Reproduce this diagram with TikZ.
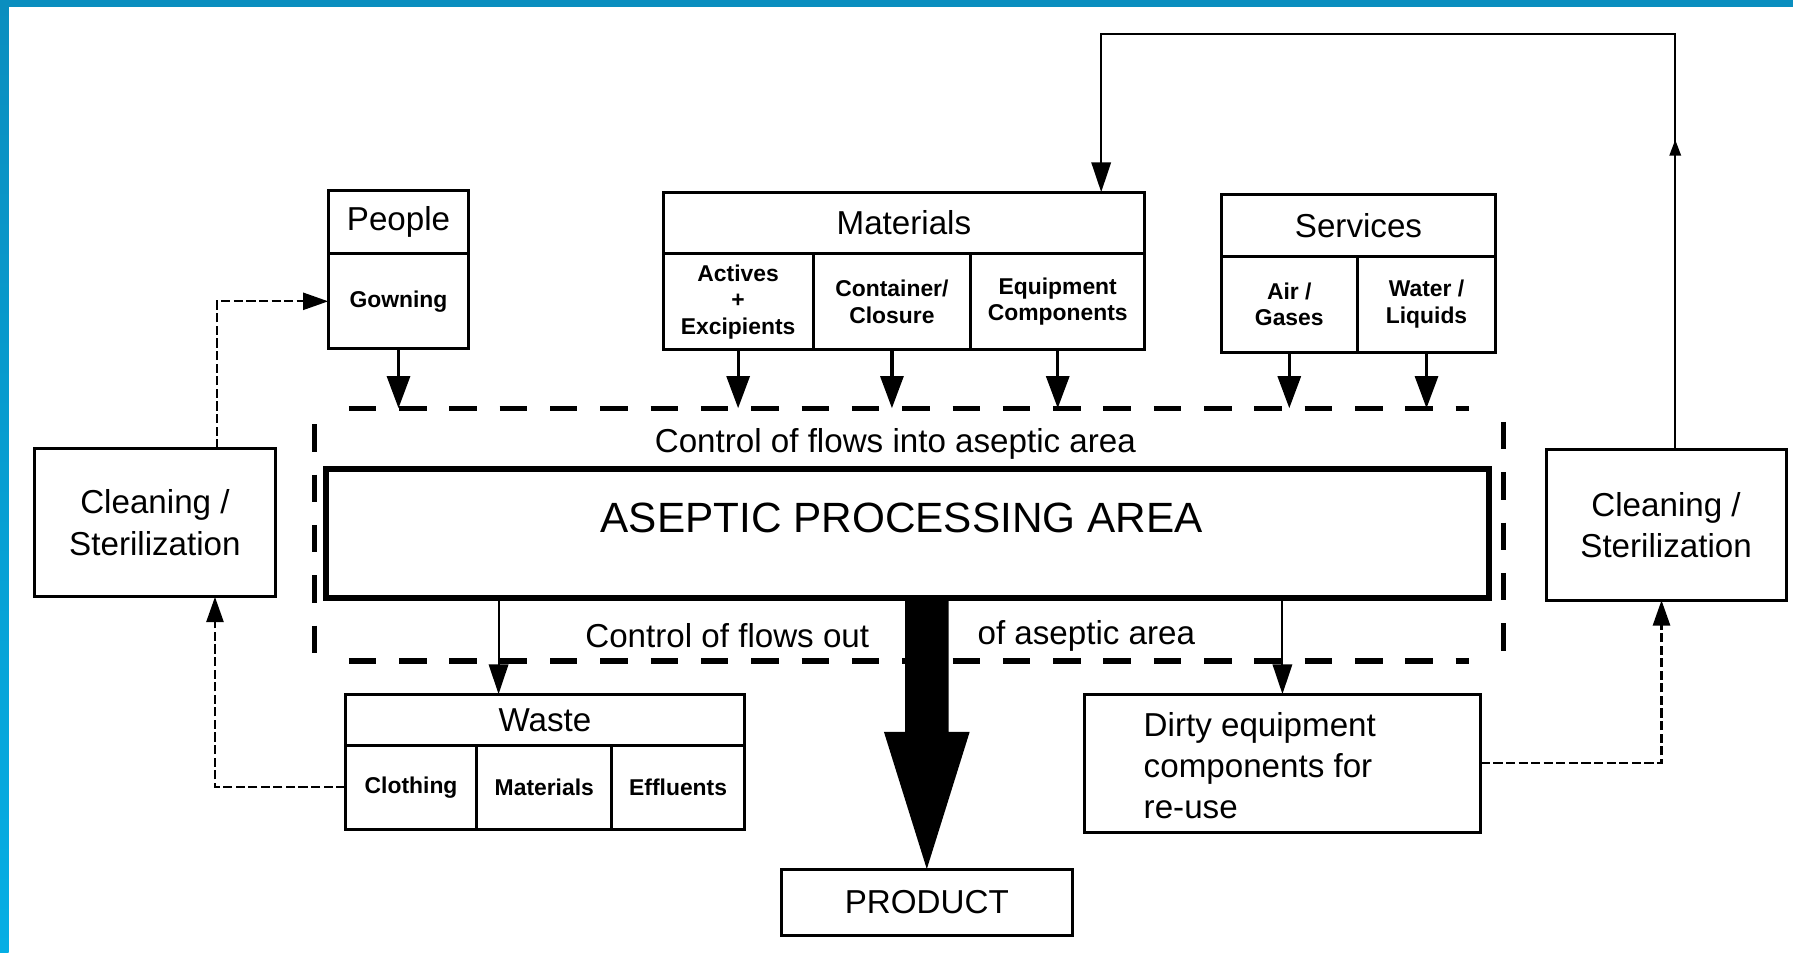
\documentclass[tikz,border=0pt]{standalone}
\usepackage{fontspec}
\setmainfont{Liberation Sans}
\usetikzlibrary{arrows.meta,calc,decorations.markings}
\definecolor{bluebar}{HTML}{0A8EBF}
\definecolor{bluebarb}{HTML}{05AEE4}
\tikzset{
 box/.style={draw, line width=2.6pt, inner sep=0pt, outer sep=0pt, align=center, font=\fontsize{29}{36}\selectfont},
 subbox/.style={box, font=\bfseries\fontsize{20}{23}\selectfont},
 arr/.style={line width=2.8pt, -{Triangle[width=20pt,length=28pt]}},
 thinarr/.style={line width=1.8pt, -{Triangle[width=17pt,length=26pt]}},
 dasharr/.style={line width=1.8pt, dash pattern=on 8pt off 3pt, -{Triangle[width=15pt,length=22pt]}},
 zoneline/.style={line width=4.5pt, dash pattern=on 24pt off 20pt},
 lbl/.style={font=\fontsize{29}{36}\selectfont, inner sep=0pt},
}
\begin{document}
\begin{tikzpicture}[x=1pt,y=-1pt]
\useasboundingbox (0,0) rectangle (1568,833);
\fill[white] (0,0) rectangle (1568,833);
\fill[bluebar] (0,0) rectangle (1568,6);
\shade[top color=bluebar, bottom color=bluebarb] (0,0) rectangle (7.5,833);

% People
\node[box, minimum width=123pt, minimum height=55pt] (pplT) at (348.5,194.5) {People};
\node[subbox, minimum width=123pt, minimum height=83pt] (pplB) at (348.5,263.5) {Gowning};

% Materials
\node[box, minimum width=421pt, minimum height=54pt] (matT) at (790.5,195) {Materials};
\node[subbox, minimum width=131pt, minimum height=84pt] (act) at (645.5,264) {Actives\\+\\Excipients};
\node[subbox, minimum width=138pt, minimum height=84pt] (cont) at (780,264) {Container/\\Closure};
\node[subbox, minimum width=152pt, minimum height=84pt] (equip) at (925,264) {Equipment\\Components};

% Services
\node[box, minimum width=240pt, minimum height=54pt] (srvT) at (1188,197) {Services};
\node[subbox, minimum width=119pt, minimum height=84pt] (air) at (1127.5,266) {Air /\\Gases};
\node[subbox, minimum width=121pt, minimum height=84pt] (water) at (1247.5,266) {Water /\\Liquids};

% Cleaning boxes
\node[box, minimum width=211pt, minimum height=130pt] (lclean) at (135.5,457) {Cleaning /\\Sterilization};
\node[box, minimum width=210pt, minimum height=132pt] (rclean) at (1457,459) {Cleaning /\\Sterilization};

% Controlled zone
\node[draw=none, minimum width=1040pt, minimum height=221pt, inner sep=0pt, outer sep=0pt] (zone) at (795,467.5) {};
\draw[zoneline] ([xshift=30pt]zone.north west) -- ([xshift=-30pt]zone.north east);
\draw[zoneline] ([xshift=30pt]zone.south west) -- ([xshift=-30pt]zone.south east);
\draw[zoneline] ($(zone.north west)+(0,14)$) -- ($(zone.south west)+(0,-4)$);
\draw[zoneline] ($(zone.north east)+(0,12)$) -- ($(zone.south east)+(0,-2)$);

% APA
\node[box, line width=5pt, minimum width=1017pt, minimum height=113pt] (apa) at (793.5,466.5) {};
\node[lbl, font=\fontsize{37}{44}\selectfont] (apatext) at ($(apa.center)+(-5,-14)$) {ASEPTIC PROCESSING AREA};
\node[lbl] (cin) at (783,388) {Control of flows into aseptic area};
\node[lbl] (cout1) at (636,556) {Control of flows out};
\node[lbl] (cout2) at (950,556) {of aseptic area};

% Waste
\node[box, minimum width=349pt, minimum height=45pt] (wasteT) at (476.5,629.5) {Waste};
\node[subbox, minimum width=115pt, minimum height=73pt] (wcl) at (359.5,688.5) {Clothing};
\node[subbox, minimum width=118pt, minimum height=73pt] (wmat) at (476,688.5) {Materials};
\node[subbox, minimum width=116pt, minimum height=73pt] (weff) at (593,688.5) {Effluents};

% Dirty equipment
\node[box, minimum width=347pt, minimum height=121pt] (dirty) at (1121.5,667.5) {};
\node[lbl, align=left, anchor=west] (dirtytext) at ($(dirty.west)+(52,2)$) {Dirty equipment\\components for\\re-use};

% Product
\node[box, minimum width=255pt, minimum height=58pt] (product) at (810.5,789) {PRODUCT};

% Big product arrow
\fill ($(product.north)+(-19,-237)$) -- ($(product.north)+(-19,-120)$) -- ($(product.north)+(-37.5,-120)$)
  -- (product.north) -- ($(product.north)+(37.5,-120)$) -- ($(product.north)+(19,-120)$)
  -- ($(product.north)+(19,-237)$) -- cycle;

% Inflow arrows
\draw[arr] (pplB.south) -- (pplB.south |- zone.north);
\draw[arr] (act.south) -- (act.south |- zone.north);
\draw[arr] (cont.south) -- (cont.south |- zone.north);
\draw[arr] (equip.south) -- (equip.south |- zone.north);
\draw[arr] (air.south) -- (air.south |- zone.north);
\draw[arr] (water.south) -- (water.south |- zone.north);

% Outflow arrows
\draw[thinarr] ([xshift=-40.5pt]wasteT.north |- apa.south) -- ([xshift=-40.5pt]wasteT.north);
\draw[thinarr] (dirty.north |- apa.south) -- (dirty.north);

% Loops
\draw[dasharr] (wcl.west) -| ([xshift=52.5pt]lclean.south);
\draw[dasharr] ([xshift=54.5pt]lclean.north) |- (pplB.west);
\draw[dasharr] (dirty.east) -| ([xshift=-4pt]rclean.south);
\draw[thinarr, postaction={decorate, decoration={markings, mark=at position 0.27 with {\arrow{Triangle[width=10pt,length=14pt]}}}}]
  ([xshift=8pt]rclean.north) -- ++(0,-363) -| ([xshift=172.5pt]matT.north);
\end{tikzpicture}
\end{document}
